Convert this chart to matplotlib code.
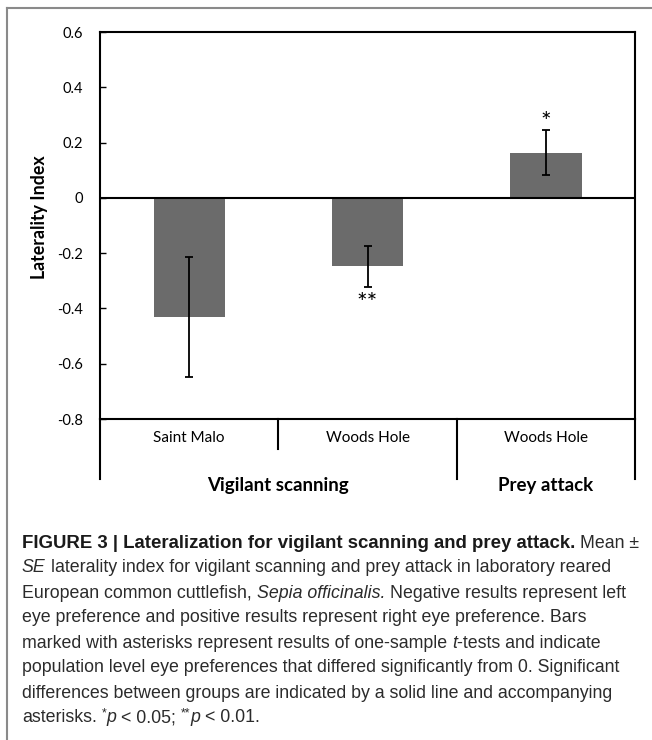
import matplotlib
matplotlib.use('Agg')
import matplotlib.pyplot as plt
import matplotlib.transforms as mtransforms

# data
sites = ['Saint Malo', 'Woods Hole', 'Woods Hole']
groups = ['Vigilant scanning', 'Prey attack']
group_members = [[0, 1], [2]]
means = [-0.43, -0.248, 0.164]
se = [0.217, 0.075, 0.082]
stars = ['', '**', '*']
yticks = [-0.8, -0.6, -0.4, -0.2, 0, 0.2, 0.4, 0.6]
ytick_labels = ['-0.8', '-0.6', '-0.4', '-0.2', '0', '0.2', '0.4', '0.6']

caption_lines = [
    [("FIGURE 3 | Lateralization for vigilant scanning and prey attack.", 'b'), (" Mean \u00b1", 'n')],
    [("SE", 'i'), (" laterality index for vigilant scanning and prey attack in laboratory reared", 'n')],
    [("European common cuttlefish, ", 'n'), ("Sepia officinalis.", 'i'), (" Negative results represent left", 'n')],
    [("eye preference and positive results represent right eye preference. Bars", 'n')],
    [("marked with asterisks represent results of one-sample ", 'n'), ("t", 'i'), ("-tests and indicate", 'n')],
    [("population level eye preferences that differed significantly from 0. Significant", 'n')],
    [("differences between groups are indicated by a solid line and accompanying", 'n')],
    [("asterisks. ", 'n'), ("*", 's'), ("p", 'i'), (" < 0.05; ", 'n'), ("**", 's'), ("p", 'i'), (" < 0.01.", 'n')],
]

W, H = 652, 740
fig = plt.figure(figsize=(W / 100, H / 100), dpi=100)
fig.patch.set_facecolor('white')


def fx(px):
    return px / W


def fy(py):
    return 1 - py / H


CHART_FONT = ['Lato', 'DejaVu Sans']
CAP_FONT = ['Liberation Sans', 'DejaVu Sans']

# frame around the figure panel
fig.add_artist(plt.Line2D([fx(7), 1], [fy(8), fy(8)], color='#8a8a8a', lw=1.5))
fig.add_artist(plt.Line2D([fx(7), fx(7)], [fy(8), 0], color='#8a8a8a', lw=1.5))

ax = fig.add_axes([fx(100), fy(419), fx(635) - fx(100), fy(32) - fy(419)])
x = list(range(len(sites)))
ax.bar(x, means, width=0.4, color='#6b6b6b', zorder=2)
ax.errorbar(x, means, yerr=se, fmt='none', ecolor='black', elinewidth=1.3,
            capsize=3, capthick=1.3, zorder=3)
ax.axhline(0, color='black', lw=1.5, zorder=4)

ax.set_xlim(-0.5, len(sites) - 0.5)
ax.set_ylim(-0.8, 0.6)
ax.set_yticks(yticks)
ax.set_yticklabels(ytick_labels, fontsize=10.5, family=CHART_FONT)
ax.set_xticks([])
ax.tick_params(axis='y', direction='in', length=4, width=1, pad=12)
for s in ax.spines.values():
    s.set_linewidth(1.5)

# asterisks
for i, st in enumerate(stars):
    if not st:
        continue
    if means[i] > 0:
        ax.text(i, means[i] + se[i] + 0.025, st, ha='center', va='center',
                fontsize=18, family=CHART_FONT)
    else:
        ax.text(i, means[i] - se[i] - 0.06, st, ha='center', va='center',
                fontsize=18, family=CHART_FONT)

# multi level category axis
trans = mtransforms.blended_transform_factory(ax.transData, ax.transAxes)
ax_h = 387.0
for i, name in enumerate(sites):
    ax.text(i, -19 / ax_h, name, transform=trans, ha='center', va='center',
            fontsize=11, family=CHART_FONT)
for name, members in zip(groups, group_members):
    cx = sum(members) / len(members)
    ax.text(cx, -66 / ax_h, name, transform=trans, ha='center', va='center',
            fontsize=13.5, fontweight='bold', family=CHART_FONT)

edges = [-0.5]
for members in group_members:
    for m in members[:-1]:
        ax.plot([m + 0.5, m + 0.5], [0, -30 / ax_h], transform=trans,
                color='black', lw=1.5, clip_on=False)
    edges.append(members[-1] + 0.5)
for e in edges:
    ax.plot([e, e], [0, -60 / ax_h], transform=trans, color='black',
            lw=1.5, clip_on=False)

fig.text(fx(39), fy(217), 'Laterality Index', rotation=90, ha='center',
         va='center', fontsize=12.8, fontweight='bold', family=CHART_FONT)

# caption with mixed styles
renderer = fig.canvas.get_renderer()
cap_size = 12.8
bold_size = 13.4
cap_color = '#2b2b2b'


def seg_width(txt, **kw):
    t = fig.text(0, 0, txt, fontsize=kw.pop('fontsize', cap_size), family=CAP_FONT, **kw)
    w = t.get_window_extent(renderer).width
    t.remove()
    return w


space_w = seg_width('x x') - seg_width('xx')

for k, parts in enumerate(caption_lines):
    xpos = 22.0
    ypx = 543 + 25 * k
    for txt, style in parts:
        lead = len(txt) - len(txt.lstrip(' '))
        trail = len(txt) - len(txt.rstrip(' '))
        core = txt.strip(' ')
        xpos += lead * space_w
        kw = dict(family=CAP_FONT, color=cap_color, fontsize=cap_size)
        yoff = 0
        if style == 'b':
            kw['fontweight'] = 'bold'
            kw['color'] = '#1a1a1a'
            kw['fontsize'] = bold_size
        elif style == 'i':
            kw['fontstyle'] = 'italic'
        elif style == 's':
            kw['fontsize'] = cap_size * 0.7
            yoff = -5
        t = fig.text(fx(xpos), fy(ypx + yoff), core, ha='left', va='center', **kw)
        xpos += t.get_window_extent(renderer).width + trail * space_w

fig.savefig('out.png', dpi=100)
